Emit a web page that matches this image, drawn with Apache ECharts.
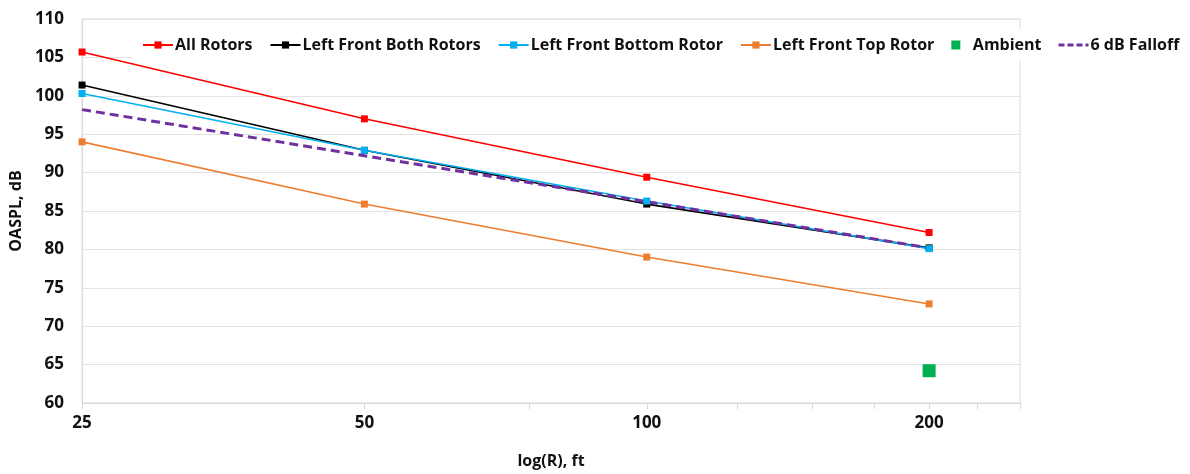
<!DOCTYPE html>
<html>
<head>
<meta charset="utf-8">
<script src="https://cdn.jsdelivr.net/npm/echarts@6/dist/echarts.min.js"></script>
<style>
  html, body { margin: 0; padding: 0; background: #fff; }
  #chart { width: 1190px; height: 474px; }
</style>
</head>
<body>
<div id="chart"></div>
<script>
// distance, ft
const distances = [25, 50, 100, 200];
// OASPL, dB
const allRotors = [105.7, 97.0, 89.4, 82.2];
const leftFrontBoth = [101.4, 92.9, 85.9, 80.2];
const leftFrontBottom = [100.3, 92.9, 86.3, 80.1];
const leftFrontTop = [94.0, 85.9, 79.0, 72.9];
const ambientX = [200];
const ambient = [64.2];
const falloff6dB = [98.2, 92.2, 86.2, 80.2];
// x axis ticks / labels
const xTicks = [25, 50, 75, 100, 125, 150, 175, 200, 225, 250];
const xLabels = [25, 50, 100, 200];

const font = '"Open Sans", Lato, sans-serif';
const pairs = (xs, ys) => xs.map((x, i) => [x, ys[i]]);

function lineSeries(name, ys, color) {
  return {
    name: name,
    type: 'line',
    data: pairs(distances, ys),
    symbol: 'rect',
    symbolSize: 7,
    lineStyle: { color: color, width: 1.6 },
    itemStyle: { color: color },
    emphasis: { disabled: true }
  };
}

const chart = echarts.init(document.getElementById('chart'));
chart.setOption({
  animation: false,
  grid: {
    left: 82, right: 170, top: 19, bottom: 71,
    show: true, borderColor: '#d9d9d9', borderWidth: 1
  },
  legend: {
    left: 132, top: 29,
    padding: [8, 10],
    backgroundColor: '#fff',
    itemWidth: 30, itemHeight: 9, itemGap: 17,
    textStyle: { fontFamily: font, fontWeight: 'bold', fontSize: 16, color: '#111', padding: [0, 0, 0, -3] },
    data: [
      'All Rotors',
      'Left Front Both Rotors',
      'Left Front Bottom Rotor',
      'Left Front Top Rotor',
      { name: 'Ambient', icon: 'path://M0,0L10,0L10,10L0,10Z' },
      { name: '6 dB Falloff', icon: 'path://M0,0h6v3h-6z M9,0h6v3h-6z M18,0h6v3h-6z M27,0h3v3h-3z' }
    ]
  },
  xAxis: {
    type: 'log',
    logBase: 2,
    min: 25, max: 250,
    name: 'log(R), ft',
    nameLocation: 'middle',
    nameGap: 50,
    nameTextStyle: { fontFamily: font, fontWeight: 'bold', fontSize: 16, color: '#111' },
    axisLine: { lineStyle: { color: '#d9d9d9' } },
    axisTick: { show: true, length: 6, customValues: xTicks, lineStyle: { color: '#d9d9d9' } },
    axisLabel: { customValues: xLabels, margin: 12, fontFamily: font, fontWeight: 'bold', fontSize: 17, color: '#111' },
    splitLine: { show: false },
    minorTick: { show: false }
  },
  yAxis: {
    type: 'value',
    min: 60, max: 110, interval: 5,
    name: 'OASPL, dB',
    nameLocation: 'middle',
    nameGap: 58,
    nameTextStyle: { fontFamily: font, fontWeight: 'bold', fontSize: 16, color: '#111' },
    axisLine: { show: true, lineStyle: { color: '#d9d9d9' } },
    axisTick: { show: false },
    axisLabel: { margin: 18, fontFamily: font, fontWeight: 'bold', fontSize: 17, color: '#111' },
    splitLine: { lineStyle: { color: '#e3e3e3' } }
  },
  series: [
    lineSeries('All Rotors', allRotors, '#ff0000'),
    lineSeries('Left Front Both Rotors', leftFrontBoth, '#000000'),
    lineSeries('Left Front Bottom Rotor', leftFrontBottom, '#00b0f0'),
    lineSeries('Left Front Top Rotor', leftFrontTop, '#ed7d31'),
    {
      name: 'Ambient',
      type: 'scatter',
      data: pairs(ambientX, ambient),
      symbol: 'rect',
      symbolSize: 13,
      itemStyle: { color: '#00b050', opacity: 1 },
      emphasis: { disabled: true }
    },
    {
      name: '6 dB Falloff',
      type: 'line',
      data: pairs(distances, falloff6dB),
      showSymbol: false,
      symbol: 'none',
      lineStyle: { color: '#7030a0', width: 3, type: [9, 5] },
      itemStyle: { color: '#7030a0' },
      emphasis: { disabled: true }
    }
  ]
});
</script>
</body>
</html>
